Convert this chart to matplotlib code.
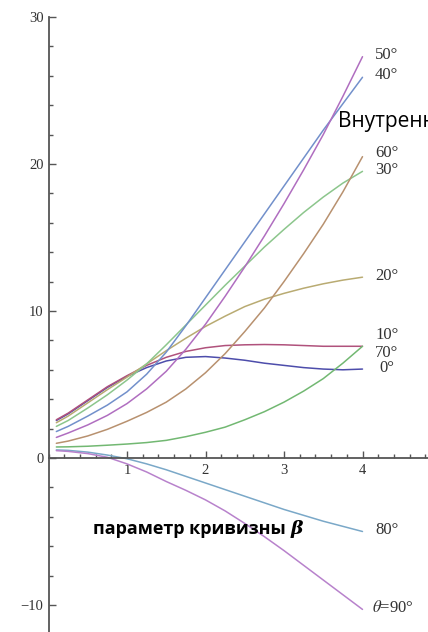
import matplotlib
matplotlib.use("Agg")
import matplotlib.pyplot as plt
from matplotlib.ticker import MultipleLocator

plt.rcParams["mathtext.fontset"] = "stix"

# curvature parameter beta
beta = [0.1, 0.25, 0.5, 0.75, 1.0, 1.25, 1.5, 1.75, 2.0, 2.25, 2.5, 2.75, 3.0, 3.25, 3.5, 3.75, 4.0]

theta_labels = ["0°", "10°", "20°", "30°", "40°", "50°", "60°", "70°", "80°", r"$\theta$=90°"]

y_0 = [2.55, 3.0, 3.9, 4.8, 5.55, 6.15, 6.6, 6.85, 6.9, 6.8, 6.65, 6.45, 6.3, 6.15, 6.05, 6.0, 6.05]
y_10 = [2.6, 3.05, 3.95, 4.85, 5.6, 6.3, 6.85, 7.25, 7.5, 7.65, 7.7, 7.72, 7.7, 7.65, 7.6, 7.6, 7.6]
y_20 = [2.4, 2.85, 3.75, 4.65, 5.5, 6.4, 7.3, 8.15, 8.95, 9.65, 10.3, 10.8, 11.2, 11.55, 11.85, 12.1, 12.3]
y_30 = [2.15, 2.55, 3.4, 4.3, 5.3, 6.4, 7.7, 9.05, 10.4, 11.75, 13.05, 14.35, 15.55, 16.7, 17.75, 18.7, 19.5]
y_40 = [1.8, 2.15, 2.85, 3.6, 4.5, 5.7, 7.2, 9.0, 10.9, 12.8, 14.7, 16.6, 18.5, 20.4, 22.3, 24.1, 25.9]
y_50 = [1.4, 1.7, 2.25, 2.9, 3.7, 4.7, 5.9, 7.4, 9.1, 11.0, 13.0, 15.1, 17.3, 19.6, 22.0, 24.6, 27.3]
y_60 = [1.0, 1.15, 1.5, 1.95, 2.5, 3.1, 3.8, 4.7, 5.8, 7.1, 8.6, 10.2, 12.0, 13.9, 15.9, 18.1, 20.5]
y_70 = [0.75, 0.76, 0.8, 0.87, 0.95, 1.05, 1.2, 1.45, 1.75, 2.1, 2.6, 3.15, 3.8, 4.55, 5.4, 6.45, 7.6]
y_80 = [0.55, 0.52, 0.4, 0.2, -0.05, -0.4, -0.8, -1.25, -1.7, -2.15, -2.6, -3.05, -3.5, -3.9, -4.3, -4.65, -5.0]
y_90 = [0.5, 0.45, 0.3, 0.05, -0.4, -0.95, -1.6, -2.2, -2.85, -3.6, -4.45, -5.35, -6.3, -7.3, -8.3, -9.3, -10.3]

series = [y_0, y_10, y_20, y_30, y_40, y_50, y_60, y_70, y_80, y_90]
colors = ["#4d4dab", "#b0527c", "#b9ab72", "#8cc68c", "#7290cb", "#b06ec0",
          "#b8916f", "#72b872", "#7aa8c8", "#b882cc"]
# vertical nudge of the end labels so that they do not overlap
label_dy = [0.05, 0.75, 0.1, 0.1, 0.15, 0.1, 0.25, -0.45, 0.1, 0.1]
label_dx = [0.22, 0.16, 0.16, 0.16, 0.16, 0.16, 0.16, 0.16, 0.16, 0.12]

W, H = 428, 632
fig = plt.figure(figsize=(W / 100, H / 100), dpi=100)
ax = fig.add_axes([48.5 / W, 0, 1 - 48.5 / W, 1 - 17 / H])
ax.set_xlim(0, (W - 48.5) / 78.5)
ax.set_ylim(-(H - 458) / 14.7, 30)

for ys, c in zip(series, colors):
    ax.plot(beta, ys, color=c, lw=1.1, solid_capstyle="round")

for ys, lab, dx, dy in zip(series, theta_labels, label_dx, label_dy):
    ax.text(beta[-1] + dx, ys[-1] + dy, lab, ha="left", va="center",
            family="Liberation Serif", fontsize=12, color="#333333")

# Mathematica-like axes through the origin
for s in ("top", "right"):
    ax.spines[s].set_visible(False)
ax.spines["left"].set_position(("data", 0))
ax.spines["bottom"].set_position(("data", 0))
for s in ("left", "bottom"):
    ax.spines[s].set_color("#555555")
    ax.spines[s].set_linewidth(1.3)

ax.xaxis.set_major_locator(MultipleLocator(1))
ax.xaxis.set_minor_locator(MultipleLocator(0.2))
ax.yaxis.set_major_locator(MultipleLocator(10))
ax.yaxis.set_minor_locator(MultipleLocator(2))
ax.tick_params(which="both", direction="in", color="#555555", width=1.0,
               labelsize=10.5, labelcolor="#333333")
ax.tick_params(which="major", length=5)
ax.tick_params(which="minor", length=3)
ax.tick_params(axis="x", pad=4)
ax.set_xticks([1, 2, 3, 4])
ax.set_yticks([-10, 0, 10, 20, 30])
ax.set_yticklabels(["\u221210", "0", "10", "20", "30"])
for t in ax.get_xticklabels() + ax.get_yticklabels():
    t.set_family("Liberation Serif")

fig.text(338 / W, 1 - 127 / H, "Внутренняя энергия", family="Open Sans",
         fontsize=15, color="black", ha="left", va="baseline")
t1 = fig.text(93 / W, 1 - 534 / H, "параметр кривизны ", family="Open Sans",
              fontsize=13, weight="bold", color="black", ha="left", va="baseline")
ax.annotate("β", xy=(1, 0), xycoords=t1, ha="left", va="bottom",
            family="DejaVu Serif", fontsize=13.5, weight="bold", style="italic",
            color="black")

fig.savefig("out.png", dpi=100)
